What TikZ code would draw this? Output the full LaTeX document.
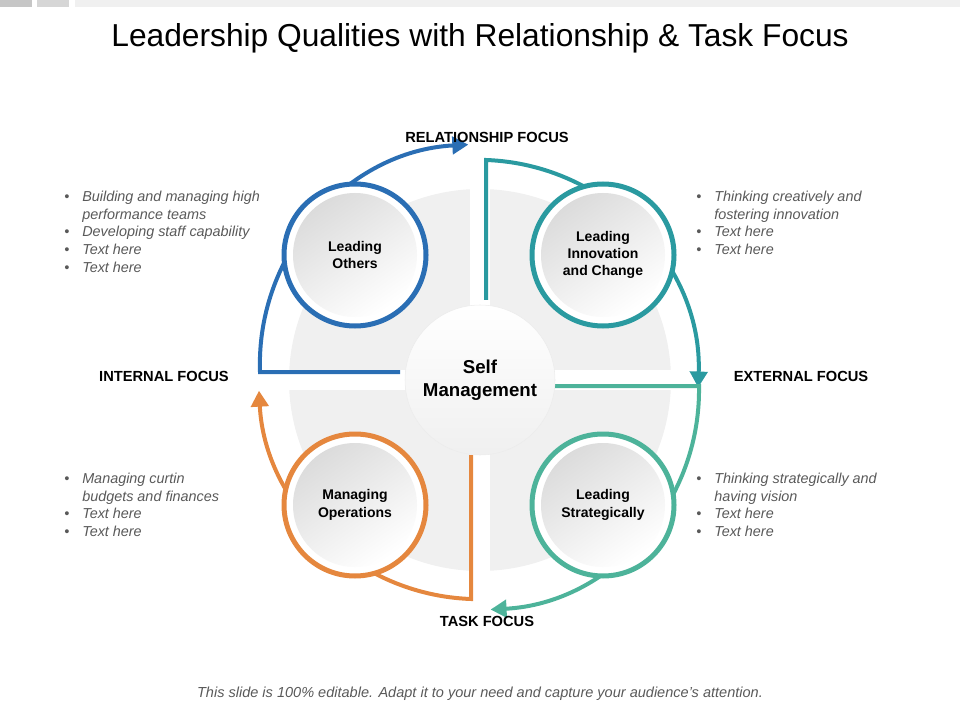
\documentclass[tikz,border=0pt]{standalone}
\usepackage{fontspec}
\setmainfont{Liberation Sans}
\usetikzlibrary{arrows.meta}
\definecolor{cblue}{HTML}{2A6EB4}
\definecolor{cteal}{HTML}{2A9AA0}
\definecolor{cgreen}{HTML}{4DB39A}
\definecolor{corange}{HTML}{E5873E}
\definecolor{cgray}{HTML}{595959}
\newcommand{\bl}{\makebox[13.5pt][l]{\textbullet}}
\newcommand{\ind}{\hspace*{13.5pt}}
\begin{document}
\begin{tikzpicture}[x=0.75pt, y=-0.75pt,
  ring/.style={circle, draw=#1, line width=3.75pt, fill=white, minimum size=106.5pt, inner sep=0pt},
  core/.style={circle, minimum size=93pt, inner sep=0pt, align=center, font=\bfseries\fontsize{10.5}{13}\selectfont,
    shading=axis, top color=gray!28, bottom color=white, shading angle=35},
  flow/.style={line width=3pt, #1, -{Triangle[length=12pt, width=13pt]}},
  focus/.style={font=\bfseries\fontsize{11}{14}\selectfont},
  notes/.style={anchor=north west, align=left, text=cgray, font=\itshape\fontsize{10.8}{13.2}\selectfont, inner sep=0pt},
]
\useasboundingbox (0,0) rectangle (960,720);
% top bars
\fill[gray!45] (0,0) rectangle (32,7);
\fill[gray!32] (37,0) rectangle (69,7);
\fill[gray!12] (75,0) rectangle (960,7);
\node (title) at (480,38) {\fontsize{23.8}{28}\selectfont Leadership Qualities with Relationship \& Task Focus};

% background quadrants
\begin{scope}
  \clip (480,380) circle (143.25pt);
  \fill[gray!12] (288,188) rectangle (470,370);
  \fill[gray!12] (490,188) rectangle (672,370);
  \fill[gray!12] (288,390) rectangle (470,572);
  \fill[gray!12] (490,390) rectangle (672,572);
\end{scope}

% arrows
\coordinate (c) at (480,380);
\draw[flow=cblue] (400,372) -- (260,372) arc[start angle=182, end angle=93, radius=165pt];
\draw[flow=cteal] (486,300) -- (486,160) arc[start angle=88, end angle=-2, radius=165pt];
\draw[flow=cgreen] (555,386) -- (699,386) arc[start angle=1, end angle=-87, radius=165pt];
\draw[flow=corange] (471,455) -- (471,599) arc[start angle=-92, end angle=-177, radius=165pt];

% circles
\node[ring=cblue] (others) at (355,255) {};
\node[core] at (others) {Leading\\Others};
\node[ring=cteal] (innov) at (603,255) {};
\node[core] at (innov) {Leading\\Innovation\\and Change};
\node[ring=corange] (ops) at (355,505) {};
\node[core] at (ops) {Managing\\Operations};
\node[ring=cgreen] (strat) at (603,505) {};
\node[core] at (strat) {Leading\\Strategically};
\node[circle, draw=gray!15, minimum size=112.5pt, inner sep=0pt, align=center,
  shading=axis, top color=white, bottom color=gray!12, font=\bfseries\fontsize{14}{17}\selectfont] (self) at (c) {Self\\Management};

% focus labels
\node[focus] (rel) at (487,137) {RELATIONSHIP FOCUS};
\node[focus] (task) at (487,621) {TASK FOCUS};
\node[focus] (int) at (164,376) {INTERNAL FOCUS};
\node[focus] (ext) at (801,376) {EXTERNAL FOCUS};

% notes
\node[notes] (n1) at (64,191) {\bl Building and managing high\\\ind performance teams\\\bl Developing staff capability\\\bl Text here\\\bl Text here};
\node[notes] (n2) at (696,191) {\bl Thinking creatively and\\\ind fostering innovation\\\bl Text here\\\bl Text here};
\node[notes] (n3) at (64,473) {\bl Managing curtin\\\ind budgets and finances\\\bl Text here\\\bl Text here};
\node[notes] (n4) at (696,473) {\bl Thinking strategically and\\\ind having vision\\\bl Text here\\\bl Text here};

\node[text=cgray, font=\itshape\fontsize{10.9}{13}\selectfont] (foot) at (480,694) {This slide is 100\% editable.  Adapt it to your need and capture your audience's attention.};
\end{tikzpicture}
\end{document}
